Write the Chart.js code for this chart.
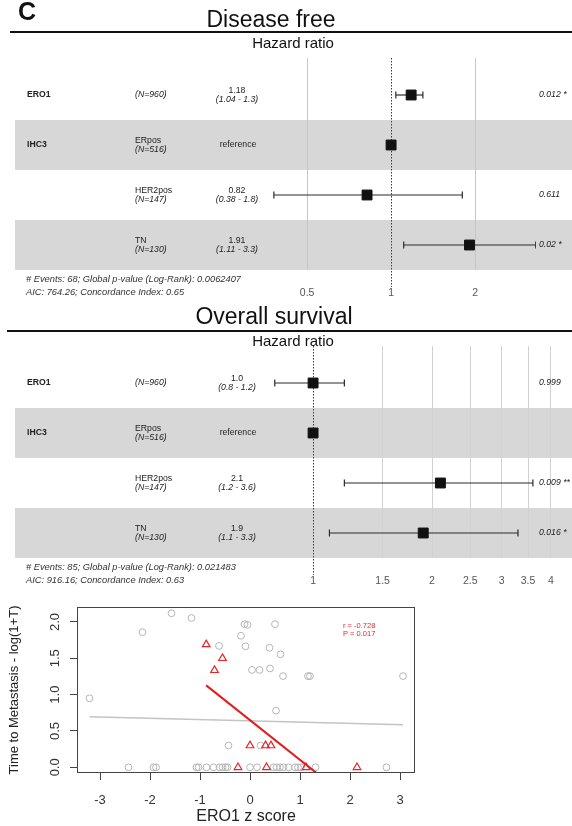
<!DOCTYPE html>
<html>
<head>
<meta charset="utf-8">
<script src="https://cdn.jsdelivr.net/npm/chart.js@4.4.1/dist/chart.umd.min.js"></script>
<style>
  html, body { margin: 0; padding: 0; background: #fff; }
  #page { position: relative; width: 572px; height: 826px; overflow: hidden;
          font-family: "Liberation Sans", Arial, sans-serif; }
  canvas { position: absolute; left: 0; }
  .t { position: absolute; white-space: nowrap; line-height: 1; color: #111; }
  .rule { position: absolute; height: 2px; background: #111; right: 0; }
</style>
</head>
<body>
<div id="page">
  <canvas id="dfs" width="572" height="300" style="top:0"></canvas>
  <canvas id="os" width="572" height="300" style="top:288px"></canvas>
  <canvas id="scat" width="572" height="226" style="top:600px"></canvas>
  <div class="t" style="left:18px;top:-1px;font-size:25px;font-weight:bold">C</div>
  <div class="t" style="left:271px;top:8px;font-size:23px;transform:translateX(-50%)">Disease free</div>
  <div class="rule" style="left:10px;top:31px"></div>
  <div class="t" style="left:274px;top:305px;font-size:23px;transform:translateX(-50%)">Overall survival</div>
  <div class="rule" style="left:7px;top:330px"></div>
</div>
<script>
// ---- Cox model rows (shared by both forest plots) ----
const rowVariables = ['ERO1', 'IHC3', '', ''];
const rowLevels    = ['', 'ERpos', 'HER2pos', 'TN'];
const rowCounts    = [960, 516, 147, 130];

// ---- Disease free survival ----
const dfsHazard = [1.18, 1, 0.82, 1.91];
const dfsLower  = [1.04, null, 0.38, 1.11];
const dfsUpper  = [1.3, null, 1.8, 3.3];
const dfsPValue = ['0.012 *', '', '0.611', '0.02 *'];
const dfsTicks  = [0.5, 1, 2];
const dfsFooter = ['# Events: 68; Global p-value (Log-Rank): 0.0062407',
                   'AIC: 764.26; Concordance Index: 0.65'];

// ---- Overall survival ----
const osHazard = [1.0, 1, 2.1, 1.9];
const osLower  = [0.8, null, 1.2, 1.1];
const osUpper  = [1.2, null, 3.6, 3.3];
const osPValue = ['0.999', '', '0.009 **', '0.016 *'];
const osTicks  = [1, 1.5, 2, 2.5, 3, 3.5, 4];
const osFooter = ['# Events: 85; Global p-value (Log-Rank): 0.021483',
                  'AIC: 916.16; Concordance Index: 0.63'];

// ---- ERO1 z score vs time to metastasis ----
const allZ = [-1.57, -1.17, -2.15, -0.11, -0.05, 0.50, -0.18, -0.62, -0.09, 0.39, 0.61,
              0.04, 0.19, 0.40, 0.66, 1.16, 1.20, 3.06, -3.21, 0.52, -0.43, 0.21,
              -2.43, -1.93, -1.88, -1.07, -1.03, -0.87, -0.73, -0.61, -0.55, -0.49, -0.45,
              0.00, 0.14, 0.47, 0.53, 0.60, 0.67, 0.77, 0.90, 0.96, 1.02, 1.31, 2.73];
const allT = [2.12, 2.055, 1.86, 1.97, 1.96, 1.97, 1.81, 1.67, 1.665, 1.645, 1.555,
              1.34, 1.34, 1.36, 1.255, 1.255, 1.255, 1.255, 0.95, 0.78, 0.30, 0.30,
              0, 0, 0, 0, 0, 0, 0, 0, 0, 0, 0,
              0, 0, 0, 0, 0, 0, 0, 0, 0, 0, 0, 0];
const subZ = [-0.876, -0.55, -0.71, 0.00, 0.31, 0.42, -0.24, 0.33, 1.12, 2.14];
const subT = [1.69, 1.50, 1.335, 0.30, 0.30, 0.30, 0, 0, 0, 0];
const allFitZ = [-3.21, 3.06];
const allFitT = [0.696, 0.586];
const subFitZ = [-0.876, 2.14];
const subFitT = [1.128, -0.52];
const zTicks = [-3, -2, -1, 0, 1, 2, 3];
const tTicks = [0, 0.5, 1, 1.5, 2];
const corrR = '-0.728';
const corrP = '0.017';

const FONT = '"Liberation Sans", Arial, sans-serif';

// Hazard ratios printed like the survminer table: two decimals, at least one.
function fmt(v) {
  let s = String(Math.round(v * 100) / 100);
  if (s.indexOf('.') < 0) s += '.0';
  return s;
}

function noScalePadding(s) {
  s.paddingLeft = 0; s.paddingRight = 0; s.paddingTop = 0; s.paddingBottom = 0;
}

// Row shading, reference line and table text for a forest plot.
const forestDecor = {
  id: 'forestDecor',
  beforeDraw(chart, args, o) {
    const { ctx } = chart;
    const y = chart.scales.y;
    ctx.save();
    ctx.fillStyle = '#d7d7d7';
    o.hazard.forEach((_, i) => {
      if (i % 2 !== 1) return;
      const t = y.getPixelForValue(i - 0.5);
      const b = y.getPixelForValue(i + 0.5);
      ctx.fillRect(15, t, chart.width - 15, b - t);
    });
    ctx.restore();
  },
  beforeDatasetsDraw(chart) {
    const { ctx, chartArea } = chart;
    const px = Math.round(chart.scales.x.getPixelForValue(1)) + 0.5;
    ctx.save();
    ctx.strokeStyle = '#3a3a3a';
    ctx.lineWidth = 1;
    ctx.setLineDash([1.5, 1.5]);
    ctx.beginPath();
    ctx.moveTo(px, chartArea.top);
    ctx.lineTo(px, chartArea.bottom + 17);
    ctx.stroke();
    ctx.restore();
  },
  afterDraw(chart, args, o) {
    const { ctx, chartArea } = chart;
    const y = chart.scales.y;
    const fs = 8.7;
    const normal = fs + 'px ' + FONT;
    const bold = 'bold ' + fs + 'px ' + FONT;
    const italic = 'italic ' + fs + 'px ' + FONT;
    ctx.save();
    ctx.fillStyle = '#222';
    ctx.textBaseline = 'middle';
    o.hazard.forEach((hr, i) => {
      const cy = y.getPixelForValue(i);
      ctx.textAlign = 'left';
      if (rowVariables[i]) {
        ctx.font = bold;
        ctx.fillText(rowVariables[i], 27, cy);
      }
      if (rowLevels[i]) {
        ctx.font = normal;
        ctx.fillText(rowLevels[i], 135, cy - 4.5);
        ctx.font = italic;
        ctx.fillText('(N=' + rowCounts[i] + ')', 135, cy + 5);
      } else {
        ctx.font = italic;
        ctx.fillText('(N=' + rowCounts[i] + ')', 135, cy);
      }
      ctx.textAlign = 'center';
      if (o.lower[i] == null) {
        ctx.font = normal;
        ctx.fillText('reference', 238, cy);
      } else {
        ctx.font = normal;
        ctx.fillText(fmt(hr), 237, cy - 4.5);
        ctx.font = italic;
        ctx.fillText('(' + fmt(o.lower[i]) + ' - ' + fmt(o.upper[i]) + ')', 237, cy + 5);
      }
      ctx.textAlign = 'left';
      ctx.font = italic;
      ctx.fillText(o.pvalue[i], 539, cy);
    });
    ctx.font = 'italic 9.3px ' + FONT;
    ctx.fillStyle = '#333';
    ctx.fillText(o.footer[0], 26, chartArea.bottom + 9);
    ctx.fillText(o.footer[1], 26, chartArea.bottom + 22.5);
    ctx.fillStyle = '#111';
    ctx.textAlign = 'center';
    ctx.font = '15px ' + FONT;
    ctx.fillText('Hazard ratio', 293, o.titleY);
    ctx.restore();
  }
};

function forestChart(id, d) {
  const datasets = [{
    type: 'scatter',
    order: 0,
    data: d.hazard.map((h, i) => ({ x: h, y: i })),
    pointStyle: 'rect',
    pointRadius: 7,
    backgroundColor: '#111',
    borderColor: '#111',
    borderWidth: 1
  }];
  d.hazard.forEach((h, i) => {
    if (d.lower[i] == null) return;
    datasets.push({
      type: 'line',
      order: 1,
      data: [{ x: d.lower[i], y: i }, { x: d.upper[i], y: i }],
      borderColor: '#2a2a2a',
      borderWidth: 1.2,
      pointStyle: 'line',
      pointRotation: 90,
      pointRadius: 3.5,
      pointBorderWidth: 1.2,
      pointBorderColor: '#2a2a2a'
    });
  });
  return new Chart(document.getElementById(id), {
    type: 'scatter',
    data: { datasets },
    plugins: [forestDecor],
    options: {
      responsive: false,
      animation: false,
      events: [],
      layout: { padding: { left: d.left, right: 572 - d.right, top: 58, bottom: 0 } },
      plugins: {
        legend: { display: false },
        tooltip: { enabled: false },
        forestDecor: d
      },
      scales: {
        x: {
          type: 'logarithmic',
          min: d.min,
          max: d.max,
          afterBuildTicks: s => { s.ticks = d.ticks.map(v => ({ value: v })); },
          afterFit: s => { s.height = 30; noScalePadding(s); },
          border: { display: false },
          grid: {
            drawTicks: false,
            lineWidth: 1,
            color: c => (c.tick && c.tick.value === 1) ? 'rgba(0,0,0,0)' : d.gridColor
          },
          ticks: {
            padding: 16.5,
            autoSkip: false,
            maxRotation: 0,
            color: '#555',
            font: { family: FONT, size: 10.5 },
            callback: v => String(v)
          }
        },
        y: { type: 'linear', min: -0.74, max: 3.5, reverse: true, display: false }
      }
    }
  });
}

forestChart('dfs', {
  hazard: dfsHazard, lower: dfsLower, upper: dfsUpper, pvalue: dfsPValue,
  ticks: dfsTicks, footer: dfsFooter, min: 0.3503, max: 3.307, left: 264, right: 536,
  titleY: 43.5, gridColor: '#c6c6c6'
});
forestChart('os', {
  hazard: osHazard, lower: osLower, upper: osUpper, pvalue: osPValue,
  ticks: osTicks, footer: osFooter, min: 0.778, max: 4.216, left: 270, right: 560,
  titleY: 54, gridColor: '#d2d2d2'
});

// Frame, rotated y labels and correlation note for the scatter plot.
const scatterDecor = {
  id: 'scatterDecor',
  afterDraw(chart) {
    const { ctx, chartArea: a } = chart;
    const y = chart.scales.y;
    ctx.save();
    ctx.strokeStyle = '#444';
    ctx.lineWidth = 1;
    ctx.strokeRect(a.left + 0.5, a.top + 0.5, a.right - a.left - 1, a.bottom - a.top - 1);
    ctx.fillStyle = '#333';
    ctx.font = '13px ' + FONT;
    ctx.textAlign = 'center';
    ctx.textBaseline = 'middle';
    y.ticks.forEach(t => {
      ctx.save();
      ctx.translate(55, y.getPixelForValue(t.value));
      ctx.rotate(-Math.PI / 2);
      ctx.fillText(t.value.toFixed(1), 0, 0);
      ctx.restore();
    });
    ctx.fillStyle = '#e8262a';
    ctx.font = '7.5px ' + FONT;
    ctx.textAlign = 'left';
    ctx.fillText('r = ' + corrR, 343, 26);
    ctx.fillText('P = ' + corrP, 343, 34);
    ctx.restore();
  }
};

new Chart(document.getElementById('scat'), {
  type: 'scatter',
  data: {
    datasets: [
      {
        type: 'line', order: 0, clip: 0,
        data: subFitZ.map((z, i) => ({ x: z, y: subFitT[i] })),
        borderColor: '#e41a1c', borderWidth: 2, pointRadius: 0
      },
      {
        order: 1,
        data: subZ.map((z, i) => ({ x: z, y: subT[i] })),
        pointStyle: 'triangle', pointRadius: 4.4,
        borderColor: '#e8262a', borderWidth: 1.2, backgroundColor: 'rgba(0,0,0,0)'
      },
      {
        type: 'line', order: 2, clip: 0,
        data: allFitZ.map((z, i) => ({ x: z, y: allFitT[i] })),
        borderColor: '#c4c4c4', borderWidth: 1.6, pointRadius: 0
      },
      {
        order: 3,
        data: allZ.map((z, i) => ({ x: z, y: allT[i] })),
        pointStyle: 'circle', pointRadius: 3.4,
        borderColor: '#b5b5b5', borderWidth: 1, backgroundColor: 'rgba(0,0,0,0)'
      }
    ]
  },
  plugins: [scatterDecor],
  options: {
    responsive: false,
    animation: false,
    events: [],
    layout: { padding: { left: 0, right: 157, top: 7, bottom: 0 } },
    plugins: { legend: { display: false }, tooltip: { enabled: false } },
    scales: {
      x: {
        type: 'linear', min: -3.46, max: 3.30,
        afterBuildTicks: s => { s.ticks = zTicks.map(v => ({ value: v })); },
        afterFit: s => { s.height = 53; noScalePadding(s); },
        border: { display: false },
        grid: { drawOnChartArea: false, drawTicks: true, tickLength: 7, color: '#444', tickColor: '#444', lineWidth: 1 },
        ticks: { padding: 13, autoSkip: false, maxRotation: 0, color: '#333',
                 font: { family: FONT, size: 13 }, callback: v => String(v) },
        title: { display: true, text: 'ERO1 z score', color: '#222', padding: 0,
                 font: { family: FONT, size: 16 } }
      },
      y: {
        type: 'linear', min: -0.078, max: 2.206,
        afterBuildTicks: s => { s.ticks = tTicks.map(v => ({ value: v })); },
        afterFit: s => { s.width = 77; noScalePadding(s); },
        border: { display: false },
        grid: { drawOnChartArea: false, drawTicks: true, tickLength: 7, color: '#444', tickColor: '#444', lineWidth: 1 },
        ticks: { display: false },
        title: { display: true, text: 'Time to Metastasis - log(1+T)', color: '#222',
                 padding: { top: 7, bottom: 0 }, font: { family: FONT, size: 13 } }
      }
    }
  }
});
</script>
</body>
</html>
